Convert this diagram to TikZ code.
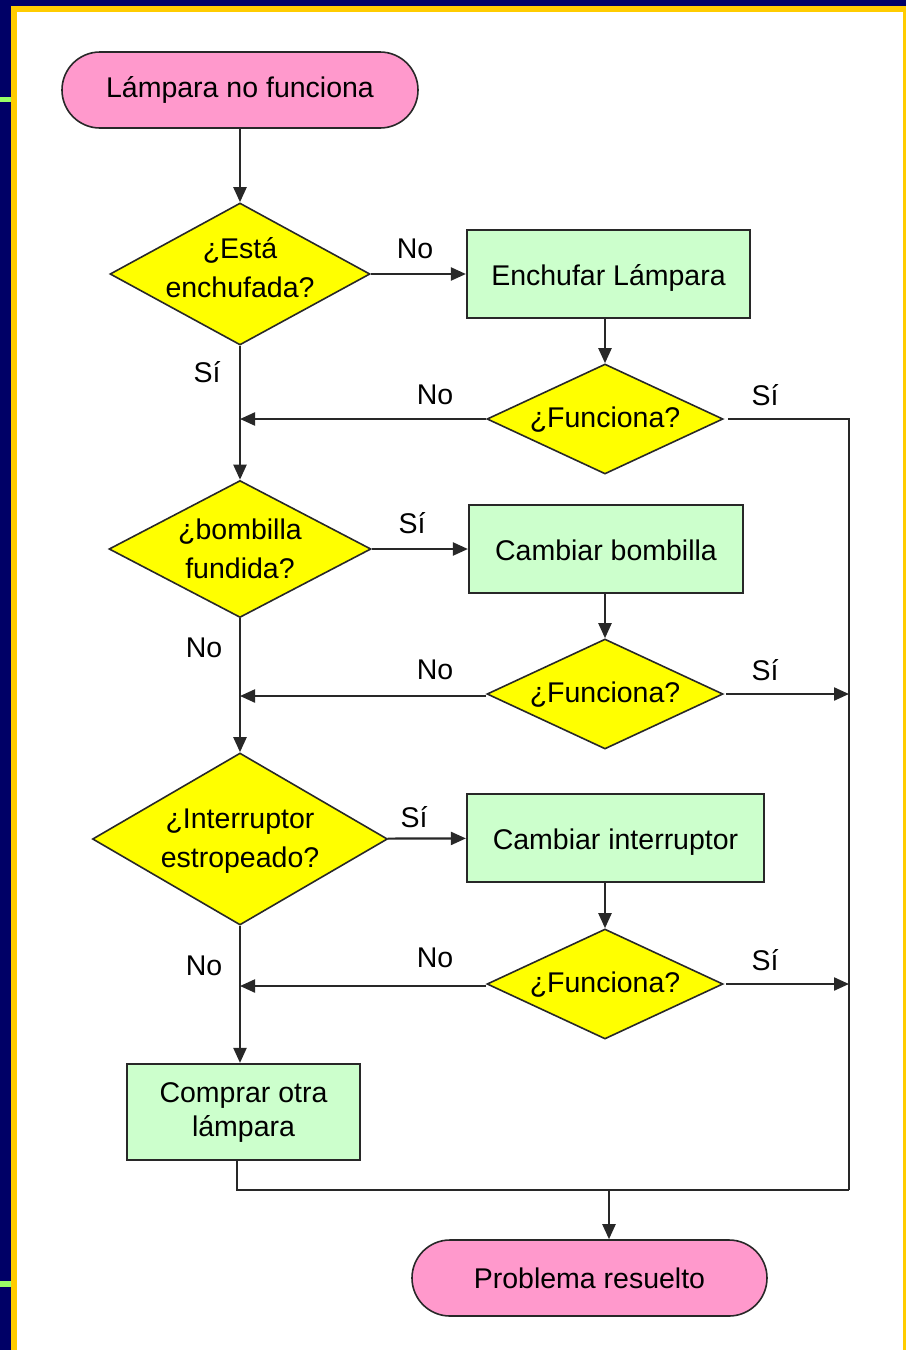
\documentclass[tikz,border=0pt]{standalone}
\usepackage{fontspec}
\setmainfont{Liberation Sans}
\usetikzlibrary{shapes.geometric,arrows.meta}
\definecolor{navy}{RGB}{0,0,102}
\definecolor{frameyellow}{RGB}{255,204,0}
\definecolor{stubgreen}{RGB}{153,255,102}
\definecolor{termpink}{RGB}{255,153,204}
\definecolor{decyellow}{RGB}{255,255,0}
\definecolor{procgreen}{RGB}{204,255,204}
\definecolor{linegray}{RGB}{40,40,40}
\begin{document}
\begin{tikzpicture}[x=1pt,y=-1pt,
  every node/.style={font=\fontsize{28.5}{34}\selectfont, text=black},
  terminal/.style={draw=linegray, line width=1.6pt, fill=termpink, rounded corners=38pt,
    minimum width=356pt, minimum height=76pt, inner sep=0pt},
  decision/.style={draw=linegray, line width=1.6pt, fill=decyellow, diamond, inner sep=0pt},
  dtext/.style={font=\fontsize{28.5}{39}\selectfont, align=center, inner sep=0pt},
  process/.style={draw=linegray, line width=2.2pt, fill=procgreen, inner sep=0pt,
    minimum height=88pt, align=center},
  oneline/.style={text height=27pt, text depth=4pt},
  flow/.style={draw=linegray, line width=2.2pt, -{Triangle[length=15pt,width=13pt]}},
  plain/.style={draw=linegray, line width=2.2pt},
  answer/.style={inner sep=0pt}]

% slide background and frame
\fill[navy] (0,0) rectangle (906,1350);
\fill[stubgreen] (0,97) rectangle (11,102);
\fill[stubgreen] (0,1281) rectangle (11,1287);
\fill[frameyellow] (11,6) rectangle (906,1350);
\fill[white] (17,12) rectangle (903,1350);
\useasboundingbox (0,0) rectangle (906,1350);

% nodes
\node[terminal] (start) at (240,90) {Lámpara no funciona};
\node[decision, minimum width=260pt, minimum height=142pt,
  label={[dtext, yshift=6pt]center:¿Está\\enchufada?}] (d1) at (240,274) {};
\node[process, oneline, minimum width=283pt] (p1) at (608.5,274) {Enchufar Lámpara};
\node[decision, minimum width=236pt, minimum height=110pt,
  label={[yshift=-1pt]center:¿Funciona?}] (f1) at (605,419) {};

\node[decision, minimum width=262pt, minimum height=137pt,
  label={[dtext]center:¿bombilla\\fundida?}] (d2) at (240,549) {};
\node[process, oneline, minimum width=274pt] (p2) at (606,549) {Cambiar bombilla};
\node[decision, minimum width=236pt, minimum height=110pt,
  label={[yshift=-1pt]center:¿Funciona?}] (f2) at (605,694) {};

\node[decision, minimum width=295pt, minimum height=172pt,
  label={[dtext, yshift=-2pt]center:¿Interruptor\\estropeado?}] (d3) at (240,839) {};
\node[process, oneline, minimum width=297pt] (p3) at (615.5,838) {Cambiar interruptor};
\node[decision, minimum width=236pt, minimum height=110pt,
  label={[yshift=-1pt]center:¿Funciona?}] (f3) at (605,984) {};

\node[process, minimum width=233pt, minimum height=96pt] (p4) at (243.5,1112) {Comprar otra\\lámpara};
\node[terminal, minimum width=355pt] (stop) at (589.5,1278) {Problema resuelto};

% junction points
\coordinate (rtop) at (849,419);
\coordinate (rbot) at (849,1190);
\coordinate (t1) at (240,419);
\coordinate (t2) at (240,696);
\coordinate (t3) at (240,986);
\coordinate (b4) at (237,1160);
\coordinate (m) at (609,1190);

% main path
\draw[flow] (start) -- (d1);
\draw[flow] (d1) -- (d2);
\draw[flow] (d2) -- (d3);
\draw[flow] (d3.south) -- (d3.south |- p4.north);

% repair branches
\draw[flow] (d1) -- (p1);
\draw[flow] (d2) -- (p2);
\draw[flow] (d3) -- (p3);
\draw[flow] (p1.south -| f1.north) -- (f1.north);
\draw[flow] (p2.south -| f2.north) -- (f2.north);
\draw[flow] (p3.south -| f3.north) -- (f3.north);

% not working: back to the main path
\draw[flow] (f1.west) -- (t1);
\draw[flow] (f2.west |- t2) -- (t2);
\draw[flow] (f3.west |- t3) -- (t3);

% working: to the solved state
\draw[plain] ([xshift=4pt]f1.east) -- (rtop) -- (rbot);
\draw[flow] ([xshift=2pt]f2.east) -- (f2.east -| rtop);
\draw[flow] ([xshift=2pt]f3.east) -- (f3.east -| rtop);
\draw[plain] (b4) -- (b4 |- rbot) -- (rbot);
\draw[flow] (m) -- (m |- stop.north);

% answers
\node[answer] at (415,249) {No};
\node[answer] at (207,372) {Sí};
\node[answer] at (435,395) {No};
\node[answer] at (765,395) {Sí};
\node[answer] at (412,523) {Sí};
\node[answer] at (204,648) {No};
\node[answer] at (435,670) {No};
\node[answer] at (765,670) {Sí};
\node[answer] at (414,817) {Sí};
\node[answer] at (204,966) {No};
\node[answer] at (435,958) {No};
\node[answer] at (765,960) {Sí};
\end{tikzpicture}
\end{document}
